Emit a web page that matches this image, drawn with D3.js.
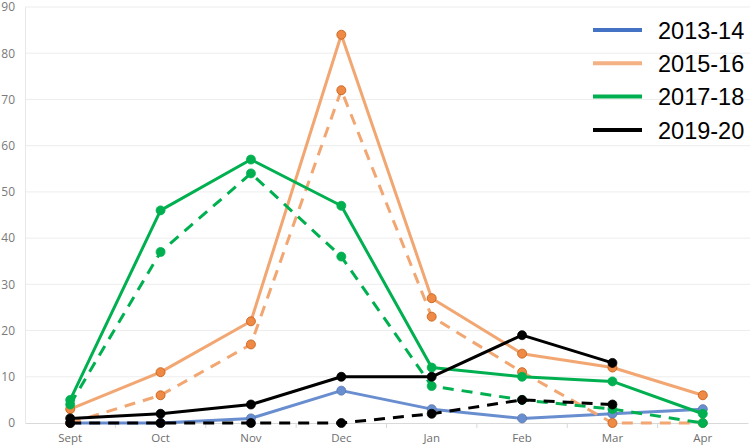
<!DOCTYPE html>
<html>
<head>
<meta charset="utf-8">
<script src="https://cdn.jsdelivr.net/npm/d3@7"></script>
<style>
  html, body { margin: 0; padding: 0; background: #fff; }
  svg { display: block; }
</style>
</head>
<body>
<svg id="chart" width="750" height="446"></svg>
<script>
const months = ["Sept", "Oct", "Nov", "Dec", "Jan", "Feb", "Mar", "Apr"];
const yTicks = [0, 10, 20, 30, 40, 50, 60, 70, 80, 90];

const s2013_14 = [0, 0, 1, 7, 3, 1, 2, 3];
const s2015_16 = [3, 11, 22, 84, 27, 15, 12, 6];
const s2015_16_dashed = [0, 6, 17, 72, 23, 11, 0, 0];
const s2017_18 = [5, 46, 57, 47, 12, 10, 9, 2];
const s2017_18_dashed = [4, 37, 54, 36, 8, 5, 3, 0];
const s2019_20 = [1, 2, 4, 10, 10, 19, 13, null];
const s2019_20_dashed = [0, 0, 0, 0, 2, 5, 4, null];

const legendNames = ["2013-14", "2015-16", "2017-18", "2019-20"];

const series = [
  { values: s2013_14, line: "#4472C4", fill: "#4472C4", stroke: "#2F5597", dashed: false, opacity: 0.8 },
  { values: s2015_16, line: "#F2A672", fill: "#EE8A45", stroke: "#C55A11", dashed: false, opacity: 1 },
  { values: s2015_16_dashed, line: "#F2A672", fill: "#EE8A45", stroke: "#C55A11", dashed: true, opacity: 1 },
  { values: s2017_18, line: "#00B050", fill: "#00B050", stroke: "#00B050", dashed: false, opacity: 1 },
  { values: s2017_18_dashed, line: "#00B050", fill: "#00B050", stroke: "#00B050", dashed: true, opacity: 1 },
  { values: s2019_20, line: "#000000", fill: "#000000", stroke: "#000000", dashed: false, opacity: 1 },
  { values: s2019_20_dashed, line: "#000000", fill: "#000000", stroke: "#000000", dashed: true, opacity: 1 }
];
const legendColors = ["#4472C4", "#F4B183", "#00B050", "#000000"];

const svg = d3.select("#chart");
const plotLeft = 25, plotRight = 748, plotTop = 7, plotBottom = 423;

const x = d3.scaleBand().domain(months).range([plotLeft, plotRight]);
const y = d3.scaleLinear().domain([0, 90]).range([plotBottom, plotTop]);

// gridlines
svg.append("g").selectAll("line").data(yTicks.filter(d => d > 0)).join("line")
  .attr("x1", plotLeft).attr("x2", 750)
  .attr("y1", d => y(d)).attr("y2", d => y(d))
  .attr("stroke", "#EDEDED").attr("stroke-width", 1);

// left axis line
svg.append("line").attr("x1", plotLeft + 0.5).attr("x2", plotLeft + 0.5)
  .attr("y1", plotTop).attr("y2", plotBottom).attr("stroke", "#E8E8E8");

// y axis labels
const yAxis = d3.axisLeft(y).tickValues(yTicks).tickSize(0).tickPadding(0);
const gy = svg.append("g").attr("transform", "translate(15,0)").call(yAxis);
gy.select(".domain").remove();
gy.selectAll("text").attr("fill", "#7A7A7A").attr("font-family", "'Open Sans', sans-serif").attr("font-size", 12);

// x axis
const xAxis = d3.axisBottom(x).tickSize(0).tickPadding(11);
const gx = svg.append("g").attr("transform", `translate(0,${plotBottom})`).call(xAxis);
gx.select(".domain").attr("stroke", "#D9D9D9");
gx.selectAll("text").attr("fill", "#6E6E6E").attr("font-family", "'Open Sans', sans-serif").attr("font-size", 11.5);
// band boundary ticks
svg.append("g").selectAll("line").data(months.slice(1)).join("line")
  .attr("x1", d => x(d)).attr("x2", d => x(d))
  .attr("y1", plotBottom).attr("y2", plotBottom + 5)
  .attr("stroke", "#D9D9D9");

const line = d3.line()
  .defined(d => d != null)
  .x((d, i) => x(months[i]) + x.bandwidth() / 2)
  .y(d => y(d));

series.forEach(s => {
  const g = svg.append("g").attr("opacity", s.opacity);
  g.append("path")
    .attr("d", line(s.values))
    .attr("fill", "none")
    .attr("stroke", s.line)
    .attr("stroke-width", 3)
    .attr("stroke-linejoin", "round")
    .attr("stroke-dasharray", s.dashed ? "11,8" : null);
  g.selectAll("circle").data(s.values.map((v, i) => ({ v, i })).filter(d => d.v != null)).join("circle")
    .attr("cx", d => x(months[d.i]) + x.bandwidth() / 2)
    .attr("cy", d => y(d.v))
    .attr("r", 4.5)
    .attr("fill", s.fill)
    .attr("stroke", s.stroke)
    .attr("stroke-width", 0.8);
});

// legend
const lg = svg.append("g");
legendNames.forEach((name, i) => {
  const ly = 30 + i * 33.3;
  lg.append("line").attr("x1", 593).attr("x2", 642).attr("y1", ly).attr("y2", ly)
    .attr("stroke", legendColors[i]).attr("stroke-width", 4);
  lg.append("text").attr("x", 658).attr("y", ly + 8.7)
    .attr("font-family", "'Liberation Sans', Arial, sans-serif").attr("font-size", 23.5)
    .attr("fill", "#000").text(name);
});
</script>
</body>
</html>
